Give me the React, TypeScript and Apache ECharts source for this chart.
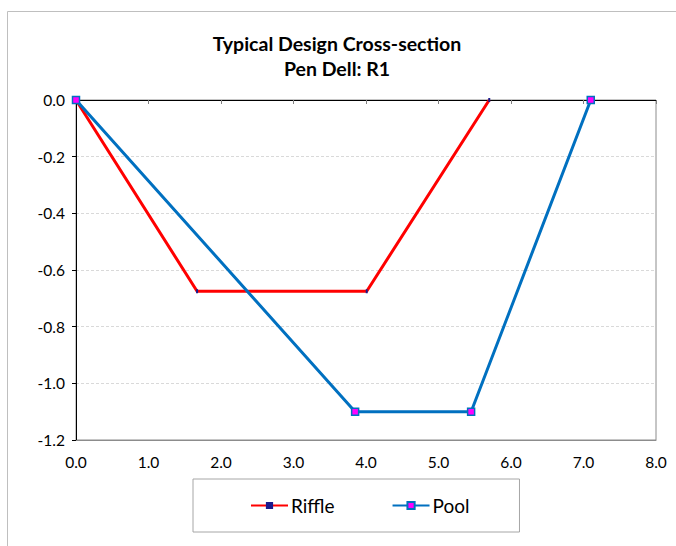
import React, { useEffect, useRef } from "react";
import * as echarts from "echarts";

const riffleX = [0, 1.67, 4.01, 5.7];
const riffleY = [0, -0.675, -0.675, 0];
const poolX = [0, 3.85, 5.45, 7.1];
const poolY = [0, -1.1, -1.1, 0];
const titleLines = ["Typical Design Cross-section", "Pen Dell: R1"];
const seriesNames = ["Riffle", "Pool"];

const FONT = "Lato, 'Open Sans', sans-serif";

export default function App() {
  const ref = useRef<HTMLDivElement>(null);
  useEffect(() => {
    if (!ref.current) return;
    const chart = echarts.init(ref.current, null, { renderer: "svg" });
    const zip = (xs: number[], ys: number[]) => xs.map((x, i) => [x, ys[i]]);
    chart.setOption({
      animation: false,
      backgroundColor: "#fff",
      textStyle: { fontFamily: FONT },
      title: {
        text: titleLines.join("\n"),
        left: 332,
        textAlign: "center",
        top: 26,
        textStyle: { fontSize: 19.5, fontWeight: "bold", color: "#000", lineHeight: 25, fontFamily: FONT },
      },
      graphic: [
        {
          type: "rect",
          shape: { x: 7.5, y: 11.5, width: 720, height: 600 },
          style: { fill: "none", stroke: "#bfbfbf", lineWidth: 1 },
          silent: true,
          z: -10,
        },
      ],
      legend: {
        left: 193,
        top: 479,
        orient: "horizontal",
        padding: [17, 50, 17, 57],
        itemGap: 57,
        itemWidth: 37,
        itemHeight: 9,
        borderColor: "#a6a6a6",
        borderWidth: 1,
        textStyle: { fontSize: 19, color: "#000", fontFamily: FONT, padding: [0, 0, 0, -2] },
        data: seriesNames,
      },
      grid: {
        left: 76,
        right: 20,
        top: 100,
        bottom: 106,
        show: true,
        borderColor: "#8c8c8c",
        borderWidth: 1,
        containLabel: false,
      },
      xAxis: [
        {
          type: "value",
          position: "top",
          min: 0,
          max: 8,
          interval: 1,
          axisLine: { show: true, onZero: false, lineStyle: { color: "#000", width: 1 } },
          axisTick: { show: true, inside: true, length: 4, lineStyle: { color: "#7f7f7f" } },
          axisLabel: { show: false },
          splitLine: { show: false },
        },
        {
          type: "value",
          position: "bottom",
          min: 0,
          max: 8,
          interval: 1,
          axisLine: { show: true, onZero: false, lineStyle: { color: "#8c8c8c", width: 1 } },
          axisTick: { show: false },
          axisLabel: {
            show: true,
            margin: 14,
            fontSize: 15.5,
            color: "#000",
            fontFamily: FONT,
            formatter: (v: number) => v.toFixed(1),
          },
          splitLine: { show: false },
        },
      ],
      yAxis: {
        type: "value",
        min: -1.2,
        max: 0,
        interval: 0.2,
        axisLine: { show: true, onZero: false, lineStyle: { color: "#000", width: 1 } },
        axisTick: { show: true, inside: false, length: 4, lineStyle: { color: "#000" } },
        axisLabel: {
          margin: 11,
          fontSize: 15.5,
          color: "#000",
          fontFamily: FONT,
          formatter: (v: number) => v.toFixed(1),
        },
        splitLine: { show: true, lineStyle: { color: "#d9d9d9", type: [3, 2], width: 1 } },
      },
      series: [
        {
          name: seriesNames[0],
          type: "line",
          xAxisIndex: 0,
          data: zip(riffleX, riffleY),
          lineStyle: { color: "#ff0000", width: 3 },
          itemStyle: { color: "#1a1a8c", borderColor: "#1a1a8c", borderWidth: 0 },
          color: "#ff0000",
          symbol: "rect",
          symbolSize: [2, 4],
          showSymbol: true,
          clip: false,
          z: 3,
        },
        {
          name: seriesNames[1],
          type: "line",
          xAxisIndex: 0,
          data: zip(poolX, poolY),
          lineStyle: { color: "#0070c0", width: 3 },
          itemStyle: { color: "#ff00ff", borderColor: "#0070c0", borderWidth: 1.5 },
          color: "#0070c0",
          symbol: "rect",
          symbolSize: 7,
          showSymbol: true,
          clip: false,
          z: 4,
        },
      ],
    });
    return () => chart.dispose();
  }, []);
  return (
    <div
      ref={ref}
      style={{ position: "fixed", left: 0, top: 0, width: 676, height: 546, background: "#fff" }}
    />
  );
}
